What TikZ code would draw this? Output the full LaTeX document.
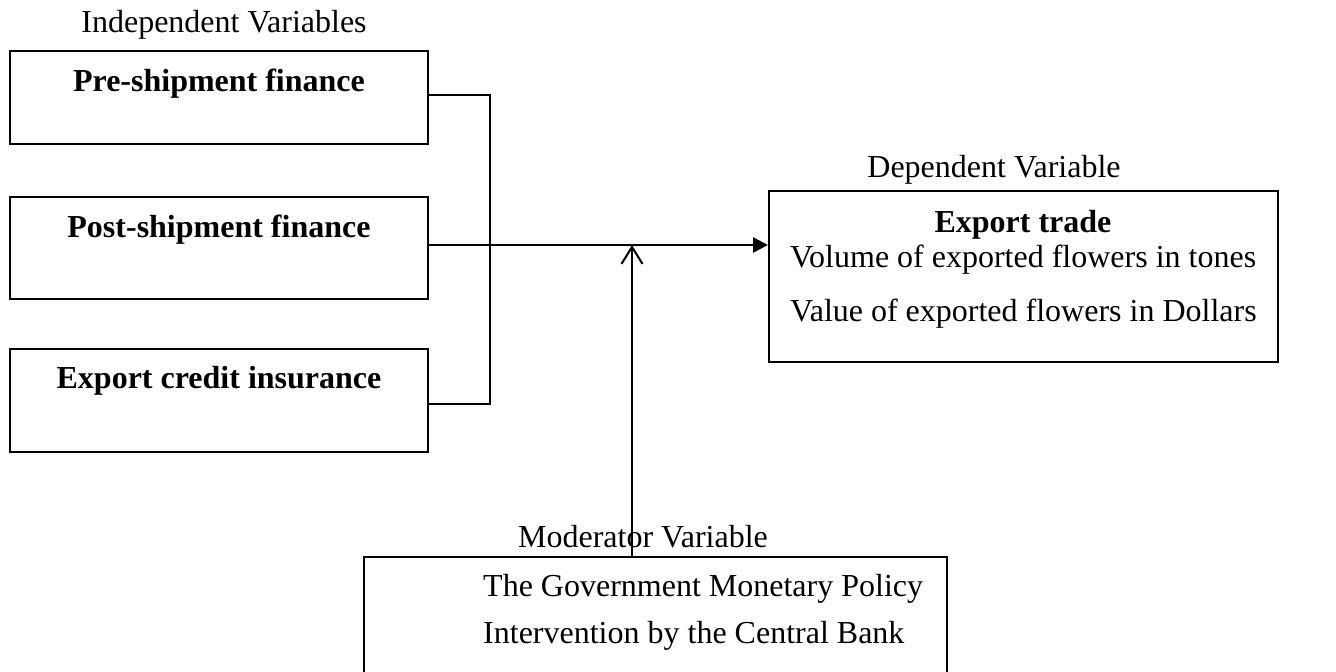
\documentclass[tikz,border=0pt]{standalone}
\usepackage{fontspec}
\setmainfont{Liberation Serif}
\usetikzlibrary{arrows.meta}
\begin{document}
\begin{tikzpicture}[x=1pt,y=-1pt,
  box/.style={draw, line width=2pt, rectangle, inner sep=0pt},
  lbl/.style={inner sep=0pt, font=\fontsize{32}{38}\selectfont},
  blbl/.style={inner sep=0pt, font=\fontsize{32}{38}\selectfont\bfseries},
  conn/.style={line width=2pt},
]
\clip (0,0) rectangle (1336,672);
\fill[white] (0,0) rectangle (1336,672);

% Independent variable boxes
\node[box, minimum width=418pt, minimum height=93pt] (box1) at (219,97.5) {};
\node[box, minimum width=418pt, minimum height=102pt] (box2) at (219,248) {};
\node[box, minimum width=418pt, minimum height=103pt] (box3) at (219,400.5) {};
\node[lbl, anchor=base] (indep) at (224,32) {Independent Variables};
\node[blbl, anchor=base] (t1) at (219,91) {Pre-shipment finance};
\node[blbl, anchor=base] (t2) at (219,237) {Post-shipment finance};
\node[blbl, anchor=base] (t3) at (219,388) {Export credit insurance};

% Dependent box
\node[box, minimum width=509pt, minimum height=171pt] (dep) at (1023.5,276.5) {};
\node[lbl, anchor=base] (deplbl) at (994,177) {Dependent Variable};
\node[blbl, anchor=base] (dtitle) at (1023,232) {Export trade};
\node[lbl, anchor=base west] (d1) at (790,267) {Volume of exported flowers in tones};
\node[lbl, anchor=base west] (d2) at (790,321) {Value of exported flowers in Dollars};

% Moderator box (bottom runs off the page)
\node[box, minimum width=583pt, minimum height=160pt] (mod) at (655.5,637) {};
\node[lbl, anchor=base] (modlbl) at (643,547) {Moderator Variable};
\node[lbl, anchor=base west] (m1) at (483,596) {The Government Monetary Policy};
\node[lbl, anchor=base west] (m2) at (483,643) {Intervention by the Central Bank};

% Connectors
\coordinate (b1) at (490,95);
\coordinate (b3) at (490,404);
\coordinate (jn) at (490,245);
\coordinate (mt) at (632,245);
\draw[conn] (box1.east |- b1) -- (b1) -- (b3) -- (box3.east |- b3);
\draw[line width=2.4pt, -{Triangle[length=15pt,width=15pt]}] (box2.east |- jn) -- (dep.west |- jn);
\draw[conn, -{Straight Barb[length=17pt,width=21pt,line width=2pt]}] (mod.north -| mt) -- (mt);
\end{tikzpicture}
\end{document}
